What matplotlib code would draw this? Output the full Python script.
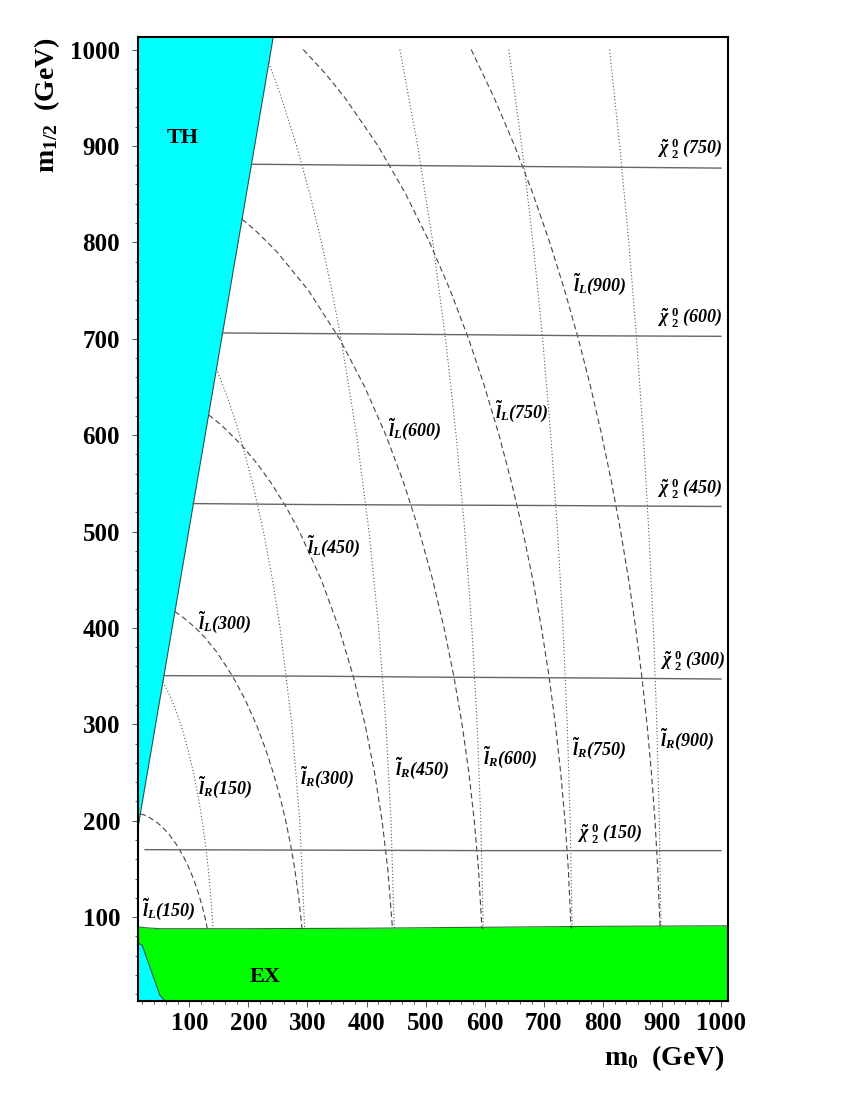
import matplotlib.pyplot as plt
from matplotlib.ticker import MultipleLocator

plt.rcParams['font.family'] = ['Liberation Serif', 'DejaVu Serif']
plt.rcParams['mathtext.fontset'] = 'custom'
plt.rcParams['mathtext.rm'] = 'Liberation Serif:bold'
plt.rcParams['mathtext.it'] = 'Liberation Serif:italic:bold'
plt.rcParams['mathtext.bf'] = 'Liberation Serif:bold'

# regioes excluidas (m0, m1/2) em GeV
th_m0 = [13, 242, 13]
th_m12 = [193, 1013, 1013]
ex_m0 = [13, 25, 50, 200, 400, 600, 800, 1012]
ex_m12 = [90, 89, 88, 88, 88.5, 89.5, 90.5, 91]
th2_m0 = [13, 20, 50, 59, 13]
th2_m12 = [73, 71, 19, 13, 13]

# sleptons direitos (pontilhado)
lR900_m0 = [811.4, 828.7, 844.0, 857.2, 868.5, 877.9, 885.6, 891.5, 895.7, 898.4]
lR900_m12 = [1000, 900, 800, 700, 600, 500, 400, 300, 200, 88]
lR750_m0 = [640.9, 662.8, 681.8, 698.1, 711.9, 723.4, 732.7, 739.8, 744.8, 748.1]
lR750_m12 = [1000, 900, 800, 700, 600, 500, 400, 300, 200, 88]
lR600_m0 = [456.4, 486.6, 512.2, 533.7, 551.6, 566.4, 578.2, 587.2, 593.5, 597.6]
lR600_m12 = [1000, 900, 800, 700, 600, 500, 400, 300, 200, 88]
lR450_m0 = [234.5, 244.3, 255.8, 281.6, 304.0, 323.7, 341.2, 356.8, 383.1, 404.1, 420.5, 432.8, 441.4, 446.8]
lR450_m12 = [986, 970, 950, 900, 850, 800, 750, 700, 600, 500, 400, 300, 200, 88]
lR300_m0 = [146, 154.7, 163.9, 175.0, 185.2, 207.2, 225.4, 240.7, 253.6, 273.5, 286.9, 295.2]
lR300_m12 = [669, 655, 640, 620, 600, 550, 500, 450, 400, 300, 200, 88]
lR150_m0 = [55.2, 60.5, 66.8, 76.9, 85.4, 97.2, 106.9, 114.9, 121.7, 127.3, 132.0, 136.5, 140.1]
lR150_m12 = [344, 338, 330, 315, 300, 275, 250, 225, 200, 175, 150, 120, 88]

# sleptons esquerdos (tracejado)
lL900_m0 = [577.2, 616.0, 650.7, 681.9, 710.1, 735.5, 758.6, 779.4, 798.2, 815.2,
            830.3, 843.8, 855.7, 866.0, 874.9, 882.3, 888.4, 893.0, 897.0]
lL900_m12 = [1000, 950, 900, 850, 800, 750, 700, 650, 600, 550,
             500, 450, 400, 350, 300, 250, 200, 150, 88]
lL750_m0 = [292.7, 330.4, 363.3, 419.5, 466.4, 506.7, 541.8, 572.7, 600.0, 624.3,
            645.8, 664.8, 681.5, 696.2, 708.9, 719.7, 728.7, 736.0, 741.6, 746.3]
lL750_m12 = [1000, 975, 950, 900, 850, 800, 750, 700, 650, 600,
             550, 500, 450, 400, 350, 300, 250, 200, 150, 88]
lL600_m0 = [189, 200.9, 215.8, 248.5, 301.7, 354.2, 396.9, 432.7, 463.2, 489.3,
            511.9, 531.2, 547.7, 561.7, 573.2, 582.4, 589.5, 595.4]
lL600_m12 = [824, 818, 810, 790, 750, 700, 650, 600, 550, 500,
             450, 400, 350, 300, 250, 200, 150, 88]
lL450_m0 = [132.5, 141.0, 154.8, 188.0, 215.3, 238.8, 264.2, 286.3, 323.3, 353.1,
            377.5, 397.4, 413.5, 426.3, 435.9, 443.9]
lL450_m12 = [621, 617, 610, 590, 570, 550, 525, 500, 450, 400,
             350, 300, 250, 200, 150, 88]
lL300_m0 = [75.3, 82.4, 91.4, 110.5, 126.3, 146.3, 173.2, 195.0, 213.2, 228.6,
            241.9, 253.3, 263.1, 271.4, 278.4, 285.2, 290.7]
lL300_m12 = [417, 414, 410, 400, 390, 375, 350, 325, 300, 275,
             250, 225, 200, 175, 150, 120, 88]
lL150_m0 = [17, 23.3, 30.5, 41.2, 51.4, 59.6, 66.7, 78.4, 90.7, 100.1,
            108.0, 115.2, 121.4, 126.3, 130.5]
lL150_m12 = [207, 206, 204, 200, 195, 190, 185, 175, 162, 150,
             138, 125, 112, 100, 88]

# neutralino chi2 (solido)
chi750_m0 = [205, 400, 600, 800, 1000]
chi750_m12 = [881, 880, 879, 878, 877]
chi600_m0 = [156, 400, 600, 800, 1000]
chi600_m12 = [706, 705, 704, 703, 702.5]
chi450_m0 = [106, 300, 500, 700, 1000]
chi450_m12 = [529, 528, 527.5, 527, 526]
chi300_m0 = [57, 300, 500, 800, 1000]
chi300_m12 = [350.5, 350, 349, 348, 347]
chi150_m0 = [25, 300, 600, 1000]
chi150_m12 = [170, 169.5, 169, 169]

fig = plt.figure(figsize=(8.5, 11), dpi=100)
ax = fig.add_axes([138 / 850, 1 - 1001 / 1100, 590 / 850, 964 / 1100])

ax.fill_between(ex_m0, 0, ex_m12, color='#00ff00', lw=0, zorder=1)
ax.plot(ex_m0, ex_m12, color='#336633', lw=0.8, zorder=2)
ax.fill(th_m0, th_m12, facecolor='#00ffff', edgecolor='#225555', lw=0.8, zorder=1)
ax.fill(th2_m0, th2_m12, facecolor='#00ffff', edgecolor='#225555', lw=0.8, zorder=2)

pontilhado = dict(color='#555555', lw=0.8, ls=(0, (1, 2)), zorder=3)
tracejado = dict(color='#444444', lw=0.8, ls=(0, (5, 3)), zorder=3)
solido = dict(color='#666666', lw=1.0, zorder=3)

for x, y in [(lR900_m0, lR900_m12), (lR750_m0, lR750_m12), (lR600_m0, lR600_m12),
             (lR450_m0, lR450_m12), (lR300_m0, lR300_m12), (lR150_m0, lR150_m12)]:
    ax.plot(x, y, **pontilhado)
for x, y in [(lL900_m0, lL900_m12), (lL750_m0, lL750_m12), (lL600_m0, lL600_m12),
             (lL450_m0, lL450_m12), (lL300_m0, lL300_m12), (lL150_m0, lL150_m12)]:
    ax.plot(x, y, **tracejado)
for x, y in [(chi750_m0, chi750_m12), (chi600_m0, chi600_m12), (chi450_m0, chi450_m12),
             (chi300_m0, chi300_m12), (chi150_m0, chi150_m12)]:
    ax.plot(x, y, **solido)

# rotulos das curvas: (m0, m1/2, texto)
chi = r'$\tilde{\chi}\;{}^{0}_{2}$ '
lL = r'$\tilde{l}_{L}$'
lR = r'$\tilde{l}_{R}$'
rotulos = [
    (892, 898, chi + '(750)'),
    (892, 723, chi + '(600)'),
    (892, 545, chi + '(450)'),
    (897, 367, chi + '(300)'),
    (756, 187, chi + '(150)'),
    (750, 756, lL + '(900)'),
    (617, 625, lL + '(750)'),
    (437, 606, lL + '(600)'),
    (300, 485, lL + '(450)'),
    (115, 406, lL + '(300)'),
    (20, 108, lL + '(150)'),
    (897, 284, lR + '(900)'),
    (748, 275, lR + '(750)'),
    (597, 266, lR + '(600)'),
    (448, 254, lR + '(450)'),
    (288, 245, lR + '(300)'),
    (115, 235, lR + '(150)'),
]
for x, y, t in rotulos:
    ax.text(x, y, t, fontsize=13, fontstyle='italic', fontweight='bold',
            ha='left', va='center', zorder=4)

ax.text(88, 908, 'TH', fontsize=16, fontweight='bold', ha='center', va='center', zorder=4)
ax.text(228, 38, 'EX', fontsize=16, fontweight='bold', ha='center', va='center', zorder=4)

ax.set_xlim(13, 1012)
ax.set_ylim(13, 1013)
ax.xaxis.set_major_locator(MultipleLocator(100))
ax.yaxis.set_major_locator(MultipleLocator(100))
ax.xaxis.set_minor_locator(MultipleLocator(20))
ax.yaxis.set_minor_locator(MultipleLocator(20))
ax.tick_params(which='both', direction='out', color='#555555', width=0.7, top=False, right=False)
ax.tick_params(which='major', length=4.3)
ax.tick_params(which='minor', length=2.5)
ax.tick_params(axis='x', pad=3.6)
ax.tick_params(axis='y', pad=8.6)
for lab in ax.get_xticklabels() + ax.get_yticklabels():
    lab.set_fontsize(18)
    lab.set_fontweight('bold')
for s in ax.spines.values():
    s.set_linewidth(1.5)
    s.set_color('black')

fig.text(725 / 850, 1 - 1065 / 1100, r'$\mathrm{m}_{\mathrm{0}}$  (GeV)', fontsize=20,
         fontweight='bold', ha='right', va='baseline')
fig.text(47 / 850, 1 - 37 / 1100, r'$\mathrm{m}_{\mathrm{1/2}}$  (GeV)', fontsize=20,
         fontweight='bold', ha='center', va='top', rotation=90)

fig.savefig('out.png', dpi=100)
